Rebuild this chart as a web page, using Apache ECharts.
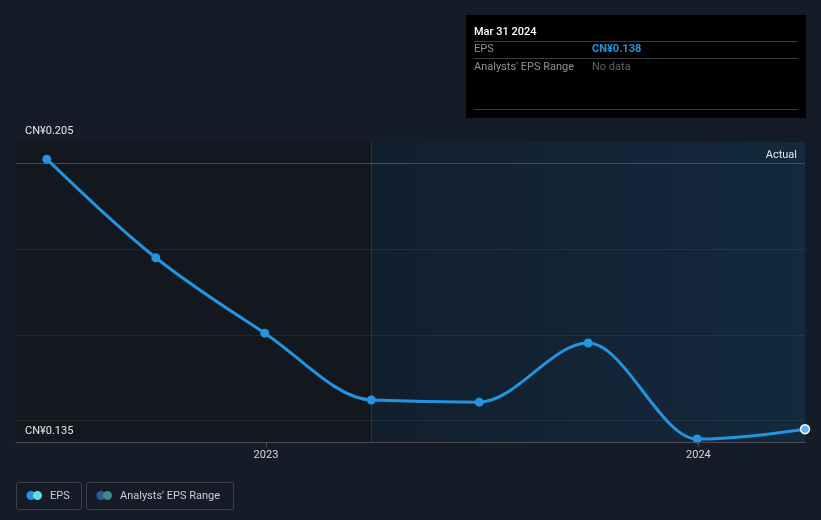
<!DOCTYPE html>
<html>
<head>
<meta charset="utf-8">
<script src="https://cdn.jsdelivr.net/npm/echarts@6/dist/echarts.min.js"></script>
<style>
html,body{margin:0;padding:0;background:#161c27;}
#c{width:821px;height:520px;}
</style>
</head>
<body>
<div id="c"></div>
<script>
// ---- data ----
const dates = ['2022-06-30','2022-09-30','2022-12-31','2023-03-31','2023-06-30','2023-09-30','2023-12-31','2024-03-31'];
const eps = [0.201, 0.178, 0.1604, 0.1448, 0.1443, 0.1581, 0.1357, 0.138];
const yTickLabels = [0.135, 0.205];
const gridValues = [0.14, 0.16, 0.18, 0.20];
const xTickYears = [2023, 2024];
const actualStart = '2023-03-31';
const tooltipDate = 'Mar 31 2024';
const currency = 'CN¥';

function ts(s){ const p = s.split('-'); return Date.UTC(+p[0], +p[1]-1, +p[2]); }
const xMin = Date.UTC(2022,5,4);
const xMax = ts(dates[dates.length-1]);
const yearTicks = xTickYears.map(y => Date.UTC(y,0,1));

const seriesData = dates.map((d,i) => {
  const item = {value:[ts(d), eps[i]]};
  if (i === dates.length-1) {
    item.itemStyle = {color:'#5fb3ee', borderColor:'#ffffff', borderWidth:1.5};
  }
  return item;
});

// monotone-x cubic curve (like d3.curveMonotoneX), computed in pixel space from api.coord
function sign(v){ return v < 0 ? -1 : 1; }
function renderCurve(params, api){
  if (params.dataIndex !== 0) return null;
  const pts = dates.map((d,i) => api.coord([ts(d), eps[i]]));
  const n = pts.length;
  const t = new Array(n).fill(0);
  for (let i = 1; i < n-1; i++) {
    const h0 = pts[i][0]-pts[i-1][0], h1 = pts[i+1][0]-pts[i][0];
    const s0 = (pts[i][1]-pts[i-1][1])/h0, s1 = (pts[i+1][1]-pts[i][1])/h1;
    const p = (s0*h1 + s1*h0)/(h0+h1);
    t[i] = (sign(s0)+sign(s1)) * Math.min(Math.abs(s0), Math.abs(s1), 0.5*Math.abs(p)) || 0;
  }
  {
    const h = pts[1][0]-pts[0][0];
    t[0] = (3*(pts[1][1]-pts[0][1])/h - t[1])/2;
    const h2 = pts[n-1][0]-pts[n-2][0];
    t[n-1] = (3*(pts[n-1][1]-pts[n-2][1])/h2 - t[n-2])/2;
  }
  let d = 'M' + pts[0][0] + ' ' + pts[0][1];
  for (let i = 0; i < n-1; i++) {
    const dx = (pts[i+1][0]-pts[i][0])/3;
    d += ' C' + (pts[i][0]+dx) + ' ' + (pts[i][1]+dx*t[i]) + ' ' +
         (pts[i+1][0]-dx) + ' ' + (pts[i+1][1]-dx*t[i+1]) + ' ' +
         pts[i+1][0] + ' ' + pts[i+1][1];
  }
  return {type:'path', shape:{pathData:d}, style:{fill:null, stroke:'#2394df', lineWidth:3, lineJoin:'round', lineCap:'round'}};
}

const chart = echarts.init(document.getElementById('c'), null, {renderer:'canvas'});
const lastVal = eps[eps.length-1];

chart.setOption({
  backgroundColor:'#161c27',
  animation:false,
  textStyle:{fontFamily:'Roboto, "Noto Sans", sans-serif'},
  grid:{left:16, right:16, top:142, bottom:78, containLabel:false},
  xAxis:{
    type:'value', min:xMin, max:xMax, scale:true, z:10,
    axisLine:{show:true, lineStyle:{color:'#4b5058', width:1}},
    axisTick:{show:true, customValues:yearTicks, length:5, lineStyle:{color:'#4b5058'}},
    axisLabel:{show:true, customValues:yearTicks, color:'#d4d7dc', fontSize:11, margin:8,
      formatter:function(v){ return String(new Date(v).getUTCFullYear()); }},
    splitLine:{show:false}
  },
  yAxis:{
    type:'value', min:0.135, max:0.205, scale:true, z:10,
    axisLine:{show:false}, axisTick:{show:false},
    splitLine:{show:false},
    axisLabel:{show:true, inside:true, customValues:yTickLabels, showMinLabel:true, showMaxLabel:true,
      color:'#e6e8eb', fontSize:11, margin:9, verticalAlign:'bottom', padding:[0,0,5,0],
      formatter:function(v){ return currency + v.toFixed(3); }}
  },
  series:[{
    name:'EPS', type:'scatter', data:seriesData,
    symbol:'circle', symbolSize:9,
    itemStyle:{color:'#2394df', opacity:1},
    z:6,
    markArea:{
      silent:true,
      data:[
        [{xAxis:xMin, itemStyle:{color:'#13181f'}}, {xAxis:ts(actualStart)}],
        [{xAxis:ts(actualStart), itemStyle:{color:{type:'linear',x:0,y:0,x2:1,y2:0,colorStops:[{offset:0,color:'#121f2d'},{offset:1,color:'#14293d'}]}},
          label:{show:true, position:'insideTopRight', formatter:'Actual', color:'#e6e8eb', fontSize:11, offset:[-3,3]}},
         {xAxis:xMax}]
      ]
    },
    markLine:{
      silent:true, symbol:'none', animation:false,
      label:{show:false},
      data:[
        ...gridValues.map(v => ({yAxis:v, lineStyle:{color:'rgba(255,255,255,0.07)', width:1, type:'solid'}})),
        {yAxis:0.205, lineStyle:{color:'#474c54', width:1, type:'solid'}},
        {xAxis:ts(actualStart), lineStyle:{color:'rgba(50,110,170,0.35)', width:1, type:'solid'}}
      ]
    }
  },{
    name:'EPS line', type:'custom', data:[[xMin, 0.135]], renderItem:renderCurve, clip:true, z:5, silent:true
  }],
  graphic:[
    {type:'rect', shape:{x:466, y:15, width:340, height:103}, style:{fill:'#000000'}, z:10},
    {type:'text', x:474, y:32, style:{text:tooltipDate, fill:'#ffffff', font:'500 11px Roboto, sans-serif', textVerticalAlign:'middle'}, z:11},
    {type:'line', shape:{x1:474, y1:41.5, x2:798, y2:41.5}, style:{stroke:'#3a3d42', lineWidth:1}, z:11},
    {type:'text', x:474, y:49, style:{text:'EPS', fill:'#8d9197', font:'11px Roboto, sans-serif', textVerticalAlign:'middle'}, z:11},
    {type:'text', x:592, y:49, style:{text:currency + lastVal.toFixed(3), fill:'#2394df', font:'bold 11px Roboto, sans-serif', textVerticalAlign:'middle'}, z:11},
    {type:'line', shape:{x1:474, y1:58.5, x2:798, y2:58.5}, style:{stroke:'#3a3d42', lineWidth:1}, z:11},
    {type:'text', x:474, y:67, style:{text:"Analysts' EPS Range", fill:'#8d9197', font:'11px Roboto, sans-serif', textVerticalAlign:'middle'}, z:11},
    {type:'text', x:592, y:67, style:{text:'No data', fill:'#5f6369', font:'11px Roboto, sans-serif', textVerticalAlign:'middle'}, z:11},
    {type:'line', shape:{x1:474, y1:109.5, x2:798, y2:109.5}, style:{stroke:'#3a3d42', lineWidth:1}, z:11},

    {type:'rect', shape:{x:16.5, y:482.5, width:65, height:27, r:2}, style:{fill:'none', stroke:'#3d424a', lineWidth:1}, z:10},
    {type:'circle', shape:{cx:31, cy:495.5, r:4.5}, style:{fill:'#2394df'}, z:11},
    {type:'circle', shape:{cx:37.5, cy:495.5, r:4.5}, style:{fill:'#5fe0d6'}, z:12},
    {type:'text', x:50, y:496, style:{text:'EPS', fill:'#c9cdd3', font:'11px Roboto, sans-serif', textVerticalAlign:'middle'}, z:11},
    {type:'rect', shape:{x:86.5, y:482.5, width:147, height:27, r:2}, style:{fill:'none', stroke:'#3d424a', lineWidth:1}, z:10},
    {type:'circle', shape:{cx:101, cy:495.5, r:4.5}, style:{fill:'#245f91'}, z:11},
    {type:'circle', shape:{cx:107.5, cy:495.5, r:4.5}, style:{fill:'#3f8a8a'}, z:12},
    {type:'text', x:120, y:496, style:{text:"Analysts' EPS Range", fill:'#c9cdd3', font:'11px Roboto, sans-serif', textVerticalAlign:'middle'}, z:11}
  ]
});
</script>
</body>
</html>
